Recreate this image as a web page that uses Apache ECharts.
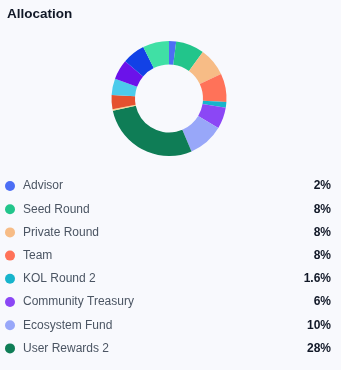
<!DOCTYPE html>
<html><head><meta charset="utf-8">
<script src="https://cdn.jsdelivr.net/npm/echarts@6/dist/echarts.min.js"></script>
<style>html,body{margin:0;padding:0;background:#f8f9fd;}#c{width:341px;height:370px;}</style>
</head><body><div id="c"></div>
<script>
const names = ["Advisor","Seed Round","Private Round","Team","KOL Round 2","Community Treasury","Ecosystem Fund","User Rewards 2","Slice 9","Slice 10","Slice 11","Slice 12","Slice 13","Slice 14"];
const values = [2,8,8,8,1.6,6,10,28,0.4,4,4.6,5.6,6.4,7.4];
const labels = ["2%","8%","8%","8%","1.6%","6%","10%","28%"];
const legendNames = names.slice(0,8);
const colors = ["#4c6ef5","#22c58b","#f7bc86","#ff7259","#17b4cc","#8b47f5","#98a7f9","#0f7d56","#f5d590","#e5512f","#4ccbeb","#6b12ea","#1241e6","#40e0a5"];
const FF = '"Liberation Sans", Arial, sans-serif';

const chart = echarts.init(document.getElementById('c'), null, {renderer:'canvas'});
chart.setOption({
  backgroundColor:'#f8f9fd',
  animation:false,
  title:{text:'Allocation',left:2,top:2,textStyle:{fontFamily:FF,fontSize:13.5,fontWeight:'bold',color:'#111827'}},
  color:colors,
  legend:{
    data:legendNames, orient:'vertical', left:0, top:175,
    icon:'circle', itemWidth:10, itemHeight:10, itemGap:11.2,
    selectedMode:false,
    formatter:function(n){const i=names.indexOf(n);return '{n|'+n+'}{v|'+labels[i]+'}';},
    textStyle:{fontFamily:FF,padding:[0,0,0,3],rich:{
      n:{fontFamily:FF,fontSize:12,color:'#4b5563',width:270},
      v:{fontFamily:FF,fontSize:12,fontWeight:'bold',color:'#111827',width:38,align:'right'}
    }}
  },
  series:[{
    type:'pie', center:[169,98.5], radius:[34,57.5], startAngle:90, clockwise:true,
    label:{show:false}, labelLine:{show:false}, silent:true,
    data:names.map((n,i)=>({name:n,value:values[i]}))
  }]
});
</script></body></html>
